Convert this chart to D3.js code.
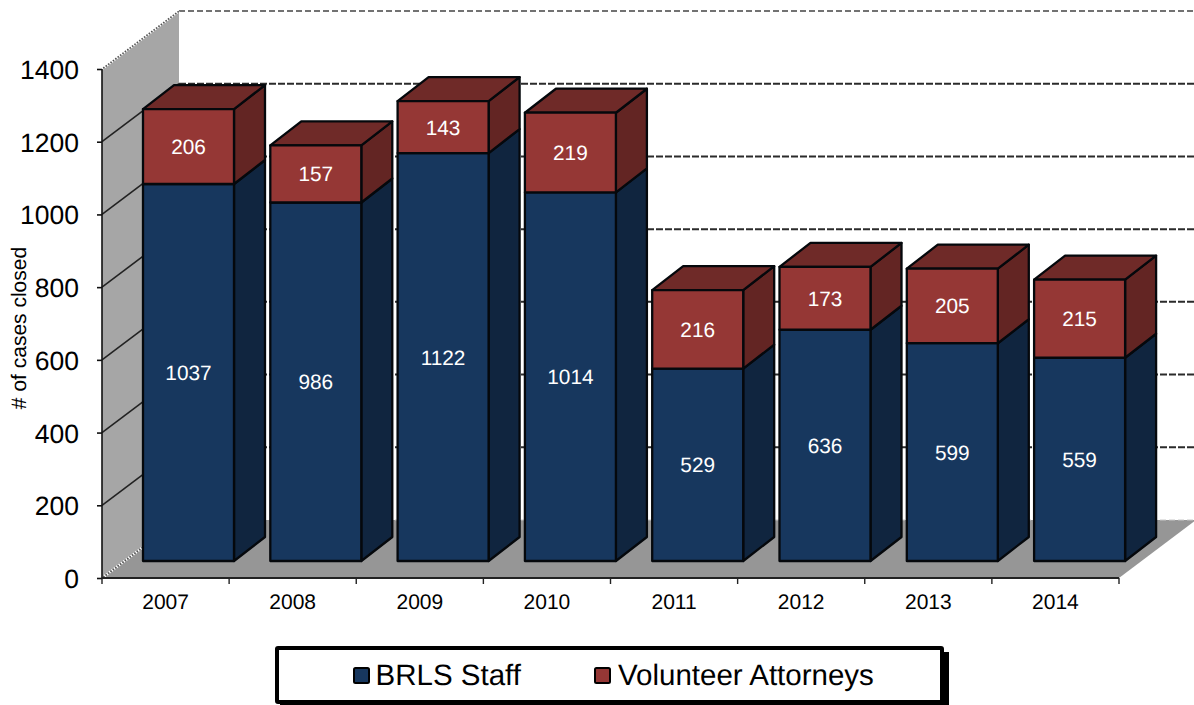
<!DOCTYPE html>
<html><head><meta charset="utf-8">
<script src="https://cdn.jsdelivr.net/npm/d3@7"></script>
<style>html,body{margin:0;padding:0;background:#fff}svg{display:block}text{font-family:"Liberation Sans",Arial,sans-serif;text-rendering:geometricPrecision}</style>
</head><body><svg id="c" width="1194" height="705"></svg>
<script>
const years=["2007","2008","2009","2010","2011","2012","2013","2014"];
const staff=[1037,986,1122,1014,529,636,599,559];
const volunteers=[206,157,143,219,216,173,205,215];
const yTicks=[0,200,400,600,800,1000,1200,1400];
const seriesNames=["BRLS Staff","Volunteer Attorneys"];
const faces={staff:{front:"#17375e",side:"#10253f"},vol:{front:"#953735",side:"#632523",top:"#6f2a28"}};

const svg=d3.select("#c");
const x=d3.scaleBand().domain(years).range([102,1119]);
const xBar=d3.scaleBand().domain(years).range([102,1120.4]);
const y=d3.scaleLinear().domain([0,1400]).range([578,69]);
const depthX=77,depthY=-58;
const barDX=31,barDY=-24;
const barLeft=41,barW=91,barFloor=-17;
const poly=p=>p.map(d=>d.join(",")).join(" ");

const grid=svg.append("g");
svg.insert("polygon","g").attr("points",poly([[102,y(1400)],[102+depthX,y(1400)+depthY],[102+depthX,y(0)+depthY],[102,y(0)]])).attr("fill","#a6a6a6");
svg.append("polygon").attr("points",poly([[102,y(0)],[1119,y(0)],[1119+depthX,y(0)+depthY],[102+depthX,y(0)+depthY]])).attr("fill","#969696");
yTicks.forEach(t=>{
  const yy=y(t)+depthY;
  if(t>0) grid.append("line").attr("x1",102+depthX).attr("x2",1196).attr("y1",yy).attr("y2",yy)
    .attr("stroke",t===1400?"#444":"#2b2b2b").attr("stroke-width",t===1400?1.6:2).attr("stroke-dasharray",t===1400?"6,3":"7,2");
  else svg.append("line").attr("x1",102+depthX).attr("x2",1196).attr("y1",yy).attr("y2",yy)
    .attr("stroke","#c8c8c8").attr("stroke-width",1).attr("stroke-dasharray","6,3");
  if(t>0&&t<1400) svg.append("line").attr("x1",102).attr("x2",102+depthX).attr("y1",y(t)).attr("y2",yy).attr("stroke","#222").attr("stroke-width",1.6);
});
[1400,0].forEach(t=>svg.append("line").attr("x1",102).attr("x2",102+depthX).attr("y1",y(t)).attr("y2",y(t)+depthY)
  .attr("stroke","#fff").attr("stroke-width",2.5).attr("stroke-dasharray","1.5,1.5"));
[1400,0].forEach(t=>svg.append("line").attr("x1",102).attr("x2",102+depthX).attr("y1",y(t)).attr("y2",y(t)+depthY)
  .attr("stroke","#555").attr("stroke-width",1.5).attr("stroke-dasharray","1.5,1.5").attr("stroke-dashoffset",1.5));

const bars=svg.append("g");
years.forEach((yr,i)=>{
  const L=xBar(yr)+barLeft,R=L+barW;
  const pos=v=>y(v)+barFloor;
  const segs=[[0,staff[i],faces.staff,false],[staff[i],staff[i]+volunteers[i],faces.vol,true]];
  const g=bars.append("g").attr("stroke","#05080c").attr("stroke-width",2.3).attr("stroke-linejoin","round");
  segs.forEach(([a,b,f,isTop])=>{
    g.append("polygon").attr("points",poly([[R,pos(a)],[R+barDX,pos(a)+barDY],[R+barDX,pos(b)+barDY],[R,pos(b)]])).attr("fill",f.side);
    if(isTop) g.append("polygon").attr("points",poly([[L,pos(b)],[R,pos(b)],[R+barDX,pos(b)+barDY],[L+barDX,pos(b)+barDY]])).attr("fill",f.top);
    g.append("rect").attr("x",L).attr("y",pos(b)).attr("width",barW).attr("height",pos(a)-pos(b)).attr("fill",f.front);
  });
});
years.forEach((yr,i)=>{
  const cx=xBar(yr)+barLeft+barW/2;
  const pos=v=>y(v)+barFloor;
  [[0,staff[i]],[staff[i],staff[i]+volunteers[i]]].forEach(([a,b])=>{
    svg.append("text").attr("x",cx).attr("y",(pos(a)+pos(b))/2).attr("dy","0.36em").attr("text-anchor","middle")
      .attr("fill","#fff").attr("font-size",20.8).text(b-a);
  });
});

const yAxis=d3.axisLeft(y).tickValues(yTicks).tickSize(5).tickPadding(18).tickFormat(d3.format("d"));
const gy=svg.append("g").attr("transform","translate(102,0)").call(yAxis);
gy.selectAll("text").attr("font-size",26.5).attr("fill","#000").attr("font-family",'"Liberation Sans"').attr("dy","0.36em");
gy.selectAll("line,path").attr("stroke","#111").attr("stroke-width",1.6);
gy.select("path").attr("d",`M0,${y(1400)}V${y(0)}`);
const xAxis=d3.axisBottom(x).tickSize(0).tickPadding(16);
const gx=svg.append("g").attr("transform",`translate(0,${y(0)})`).call(xAxis);
gx.selectAll("text").attr("font-size",21).attr("fill","#000").attr("font-family",'"Liberation Sans"');
gx.select("path").attr("d","M102,0H1119").attr("stroke","#222").attr("stroke-width",2.2);
years.concat(["end"]).forEach((yr,i)=>{
  const xx=i<years.length?x(yr):x.range()[1];
  gx.append("line").attr("x1",xx).attr("x2",xx).attr("y1",0).attr("y2",6).attr("stroke","#222").attr("stroke-width",1.4);
});
svg.append("text").attr("transform","translate(26,328) rotate(-90)").attr("text-anchor","middle").attr("font-size",21).text("# of cases closed");

svg.append("rect").attr("x",280).attr("y",652).attr("width",669).attr("height",53).attr("fill","#000");
svg.append("rect").attr("x",277).attr("y",648).attr("width",665).attr("height",54).attr("fill","#fff").attr("stroke","#000").attr("stroke-width",4).attr("rx",1);
const legend=[[354,375.5,faces.staff.front],[595,618,faces.vol.front]];
legend.forEach(([sx,tx,c],i)=>{
  svg.append("rect").attr("x",sx).attr("y",668).attr("width",15).attr("height",15).attr("rx",1.5).attr("fill",c).attr("stroke","#000").attr("stroke-width",2);
  svg.append("text").attr("x",tx).attr("y",685).attr("font-size",29.5).attr("fill","#000").text(seriesNames[i]);
});
</script></body></html>
